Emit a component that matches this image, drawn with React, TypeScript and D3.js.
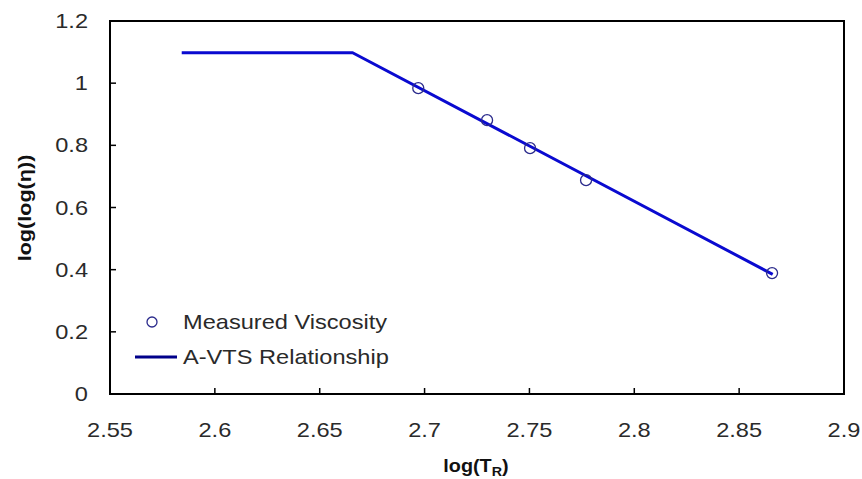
import React from "react";
import * as d3 from "d3";

const measuredX = [2.697, 2.7298, 2.7503, 2.777, 2.8657];
const measuredY = [0.984, 0.881, 0.791, 0.688, 0.389];
const relX = [2.5842, 2.6657, 2.866];
const relY = [1.098, 1.098, 0.385];
const xTicks = [2.55, 2.6, 2.65, 2.7, 2.75, 2.8, 2.85, 2.9];
const xTickLabels = ["2.55", "2.6", "2.65", "2.7", "2.75", "2.8", "2.85", "2.9"];
const yTicks = [0, 0.2, 0.4, 0.6, 0.8, 1, 1.2];
const yTickLabels = ["0", "0.2", "0.4", "0.6", "0.8", "1", "1.2"];
const legendLabels = ["Measured Viscosity", "A-VTS Relationship"];

const W = 862, H = 479;
const L = 110, R = 844, T = 21, B = 394;
const SX = 1.18;
const FONT = "'Liberation Sans', Arial, sans-serif";

function SText({ x, y, anchor = "start", size = 20, weight = "normal", children, fill = "#2a2a2a" }: any) {
  return (
    <g transform={`translate(${x},${y}) scale(${SX},1)`}>
      <text x={0} y={0} textAnchor={anchor} fontSize={size} fontWeight={weight} fontFamily={FONT} fill={fill}>
        {children}
      </text>
    </g>
  );
}

export default function App() {
  const x = d3.scaleLinear().domain([2.55, 2.9]).range([L, R]);
  const y = d3.scaleLinear().domain([0, 1.2]).range([B, T]);
  const line = d3.line<number>().x((_, i) => x(relX[i])).y((d) => y(d));
  const lineColor = "#0a0ad0";
  const markColor = "#2b2b8c";
  return (
    <svg width={W} height={H} style={{ position: "absolute", left: 0, top: 0, background: "#fff" }}>
      <rect x={0} y={0} width={W} height={H} fill="#fff" />
      {xTicks.map((t, i) =>
        i > 0 && i < xTicks.length - 1 ? (
          <line key={"xt" + i} x1={x(t)} x2={x(t)} y1={B} y2={B - 6} stroke="#000" strokeWidth={1.5} />
        ) : null
      )}
      {yTicks.map((t, i) =>
        i > 0 && i < yTicks.length - 1 ? (
          <line key={"yt" + i} x1={L} x2={L + 6} y1={y(t)} y2={y(t)} stroke="#000" strokeWidth={1.5} />
        ) : null
      )}
      <rect x={L} y={T} width={R - L} height={B - T} fill="none" stroke="#000" strokeWidth={2} />
      {xTicks.map((t, i) => (
        <SText key={"xl" + i} x={x(t)} y={437} anchor="middle">{xTickLabels[i]}</SText>
      ))}
      {yTicks.map((t, i) => (
        <SText key={"yl" + i} x={88} y={y(t) + 7} anchor="end">{yTickLabels[i]}</SText>
      ))}
      <path d={line(relY) || ""} fill="none" stroke={lineColor} strokeWidth={3} strokeLinejoin="round" />
      {measuredX.map((mx, i) => (
        <circle key={"p" + i} cx={x(mx)} cy={y(measuredY[i])} r={5.5} fill="none" stroke={markColor} strokeWidth={1.3} />
      ))}
      <circle cx={152} cy={322} r={5} fill="none" stroke={markColor} strokeWidth={1.3} />
      <SText x={183} y={329}>{legendLabels[0]}</SText>
      <line x1={135} x2={177} y1={357} y2={357} stroke="#00008a" strokeWidth={3} />
      <SText x={183} y={364}>{legendLabels[1]}</SText>
      <g transform={`translate(476,472) scale(1.1,1)`}>
        <text x={0} y={0} textAnchor="middle" fontSize={18} fontWeight="bold" fontFamily={FONT} fill="#111">
          log(T<tspan fontSize={13} dy={4}>R</tspan><tspan dy={-4}>)</tspan>
        </text>
      </g>
      <g transform={`translate(31,208) rotate(-90) scale(1.2,1)`}>
        <text x={0} y={0} textAnchor="middle" fontSize={18} fontWeight="bold" fontFamily={FONT} fill="#111">
          log(log(η))
        </text>
      </g>
    </svg>
  );
}
